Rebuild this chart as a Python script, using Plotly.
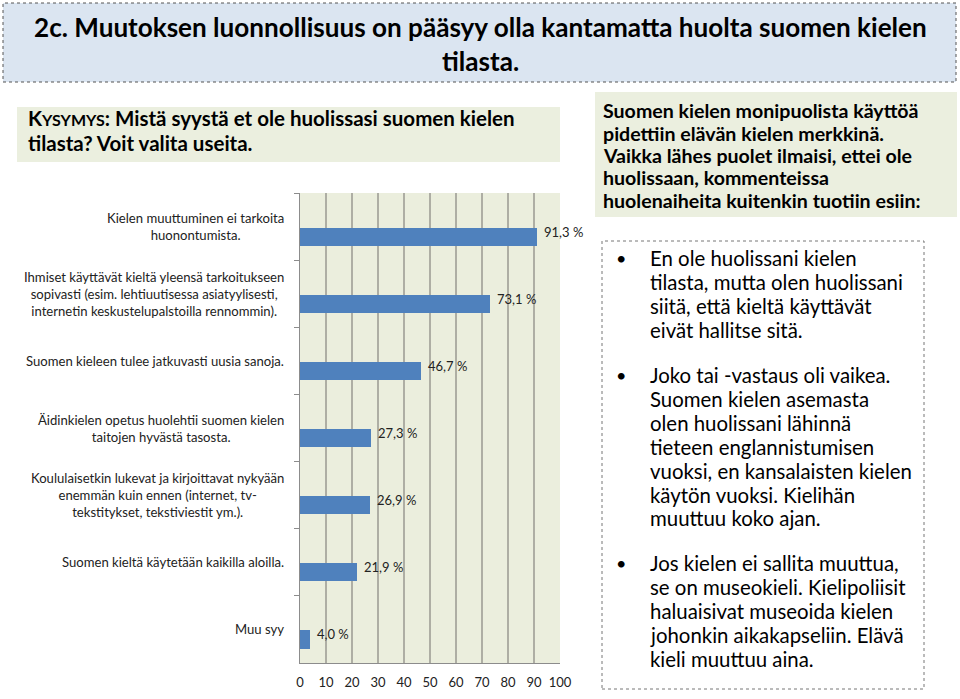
import plotly.graph_objects as go

# Figure slightly shorter than the 699px window so the page never gets a scrollbar
W, H = 960, 690

categories = [
    "Kielen muuttuminen ei tarkoita<br>huonontumista.",
    "Ihmiset käyttävät kieltä yleensä tarkoitukseen<br>sopivasti (esim. lehtiuutisessa asiatyylisesti,<br>internetin keskustelupalstoilla rennommin).",
    "Suomen kieleen tulee jatkuvasti uusia sanoja.",
    "Äidinkielen opetus huolehtii suomen kielen<br>taitojen hyvästä tasosta.",
    "Koululaisetkin lukevat ja kirjoittavat nykyään<br>enemmän kuin ennen (internet, tv-<br>tekstitykset, tekstiviestit ym.).",
    "Suomen kieltä käytetään kaikilla aloilla.",
    "Muu syy",
]
values = [91.3, 73.1, 46.7, 27.3, 26.9, 21.9, 4.0]
x_ticks = [0, 10, 20, 30, 40, 50, 60, 70, 80, 90, 100]

title_lines = [
    "2c. Muutoksen luonnollisuus on pääsyy olla kantamatta huolta suomen kielen",
    "tilasta.",
]
question_lines = [
    'K<span style="font-size:16px">YSYMYS</span>: Mistä syystä et ole huolissasi suomen kielen',
    "tilasta? Voit valita useita.",
]
summary_lines = [
    "Suomen kielen monipuolista käyttöä",
    "pidettiin elävän kielen merkkinä.",
    "Vaikka lähes puolet ilmaisi, ettei ole",
    "huolissaan, kommenteissa",
    "huolenaiheita kuitenkin tuotiin esiin:",
]
bullets = [
    ["En ole huolissani kielen", "tilasta, mutta olen huolissani",
     "siitä, että kieltä käyttävät", "eivät hallitse sitä."],
    ["Joko tai -vastaus oli vaikea.", "Suomen kielen asemasta",
     "olen huolissani lähinnä", "tieteen englannistumisen",
     "vuoksi, en kansalaisten kielen", "käytön vuoksi. Kielihän",
     "muuttuu koko ajan."],
    ["Jos kielen ei sallita muuttua,", "se on museokieli. Kielipoliisit",
     "haluaisivat museoida kielen", "johonkin aikakapseliin. Elävä",
     "kieli muuttuu aina."],
]
bullet_starts = [258, 375, 563]

FONT = "Lato"
px = lambda x: x / W
py = lambda y: 1 - min(y, H - 1) / H

labels = [f"{v:.1f}".replace(".", ",") + " %" for v in values]

fig = go.Figure()
fig.add_trace(go.Bar(
    x=values, y=categories, orientation="h",
    marker=dict(color="#4f81bd", line=dict(width=0)),
    width=0.27, offset=0.015,
    hoverinfo="skip",
))

shapes = [
    dict(type="rect", xref="paper", yref="paper", x0=px(3), x1=px(956), y0=py(82), y1=py(3),
         fillcolor="#dbe5f1", line=dict(color="#555", width=1, dash="dot"), layer="below"),
    dict(type="rect", xref="paper", yref="paper", x0=px(17), x1=px(560), y0=py(162), y1=py(107),
         fillcolor="#ebefdf", line=dict(width=0), layer="below"),
    dict(type="rect", xref="paper", yref="paper", x0=px(595), x1=px(957), y0=py(217), y1=py(92),
         fillcolor="#ebefdf", line=dict(width=0), layer="below"),
    dict(type="rect", xref="paper", yref="paper", x0=px(602), x1=px(924), y0=py(697), y1=py(241),
         fillcolor="rgba(0,0,0,0)", line=dict(color="#777", width=1, dash="dot"), layer="below"),
]

ann = []
for i, t in enumerate(title_lines):
    ann.append(dict(text=f"<b>{t}</b>", xref="paper", yref="paper", x=0.5, y=py([27, 61][i]),
                    xanchor="center", yanchor="middle", showarrow=False,
                    font=dict(family=FONT, size=26.1, color="#000")))
for i, t in enumerate(question_lines):
    ann.append(dict(text=f"<b>{t}</b>", xref="paper", yref="paper", x=px(26), y=py([118, 143][i]),
                    xanchor="left", yanchor="middle", showarrow=False,
                    font=dict(family=FONT, size=20.5, color="#000")))
for i, t in enumerate(summary_lines):
    ann.append(dict(text=f"<b>{t}</b>", xref="paper", yref="paper", x=px(601), y=py(111 + 22.3 * i),
                    xanchor="left", yanchor="middle", showarrow=False,
                    font=dict(family=FONT, size=19.6, color="#000")))
for b, lines in enumerate(bullets):
    y0 = bullet_starts[b]
    ann.append(dict(text="•", xref="paper", yref="paper", x=px(621), y=py(y0),
                    xanchor="center", yanchor="middle", showarrow=False,
                    font=dict(family=FONT, size=18, color="#000")))
    for i, t in enumerate(lines):
        ann.append(dict(text=t, xref="paper", yref="paper", x=px(648), y=py(y0 + 23.9 * i),
                        xanchor="left", yanchor="middle", showarrow=False,
                        font=dict(family=FONT, size=20.4, color="#000")))
for c in categories:
    ann.append(dict(text=c, xref="paper", yref="y", x=px(286), y=c,
                    xanchor="right", yanchor="middle", align="center", showarrow=False,
                    font=dict(family=FONT, size=13.1, color="#222")))
for c, v, lab in zip(categories, values, labels):
    ann.append(dict(text=lab, xref="x", yref="y", x=v, y=c, xshift=5, yshift=-5,
                    xanchor="left", yanchor="middle", showarrow=False,
                    font=dict(family=FONT, size=13, color="#222")))

fig.update_layout(
    width=W, height=H,
    margin=dict(l=0, r=0, t=0, b=0),
    paper_bgcolor="white", plot_bgcolor="#ebeedd",
    showlegend=False, bargap=0,
    shapes=shapes, annotations=ann,
    xaxis=dict(domain=[px(300), px(560)], range=[0, 100], tickvals=x_ticks,
               showgrid=True, gridcolor="#aeaea4", gridwidth=1.5,
               showline=True, linecolor="#8c8c8c", linewidth=1, automargin=False,
               ticks="", ticklabelstandoff=7, zeroline=False,
               tickfont=dict(family=FONT, size=13, color="#222"), fixedrange=True),
    yaxis=dict(domain=[py(663), py(193)], autorange="reversed", type="category",
               showticklabels=False, tickson="boundaries", ticks="outside", ticklen=5,
               tickcolor="#8c8c8c", showline=True, linecolor="#8c8c8c", linewidth=1,
               showgrid=False, fixedrange=True, automargin=False),
)

fig.write_html("out.html")
